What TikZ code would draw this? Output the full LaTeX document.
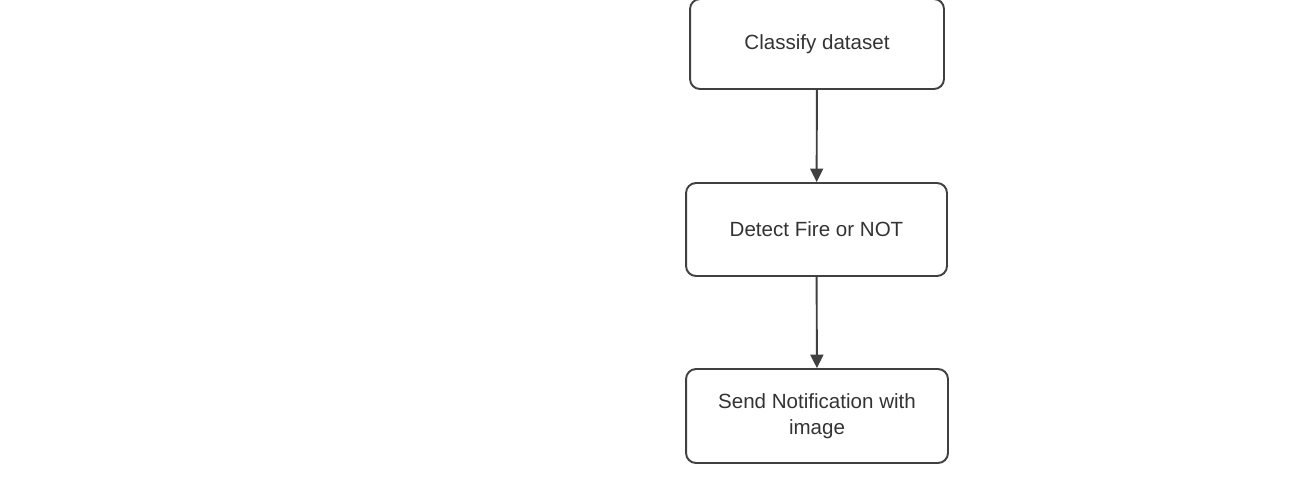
\documentclass[tikz,border=0pt]{standalone}
\usepackage{fontspec}
\setmainfont{Liberation Sans}
\usepackage{xcolor}
\definecolor{BoxLine}{HTML}{404040}
\definecolor{BoxText}{HTML}{333333}
\usetikzlibrary{arrows.meta,positioning}
\tikzset{>=latex}
\tikzstyle{flowbox}=[draw=BoxLine,line width=1.1pt,rounded corners=0.2cm,text=BoxText,align=center,font=\fontsize{11.7}{14.8}\selectfont,inner sep=0]
\tikzstyle{flowarr}=[draw=BoxLine,line width=1.1pt,-{Triangle[length=0.27cm,width=0.26cm]}]

\begin{document}
\begin{tikzpicture}[x=0.02cm,y=-0.02cm]
		
		\useasboundingbox (0,0) rectangle (1293,495);
		
		%% PROCESS STEPS
		\node[flowbox,minimum width=5.08cm,minimum height=1.80cm] (Classify) at (817,44) {Classify dataset};
		\node[flowbox,minimum width=5.22cm,minimum height=1.86cm] (Detect) at (816.5,229.5) {Detect Fire or NOT};
		\node[flowbox,minimum width=5.24cm,minimum height=1.88cm] (Notify) at (817,416) {Send Notification with\\image};
		
		%% CONNECTIONS
		\draw[flowarr] (Classify) -- (Detect);
		\draw[flowarr] (Detect) -- (Notify);
		
	\end{tikzpicture}
\end{document}
